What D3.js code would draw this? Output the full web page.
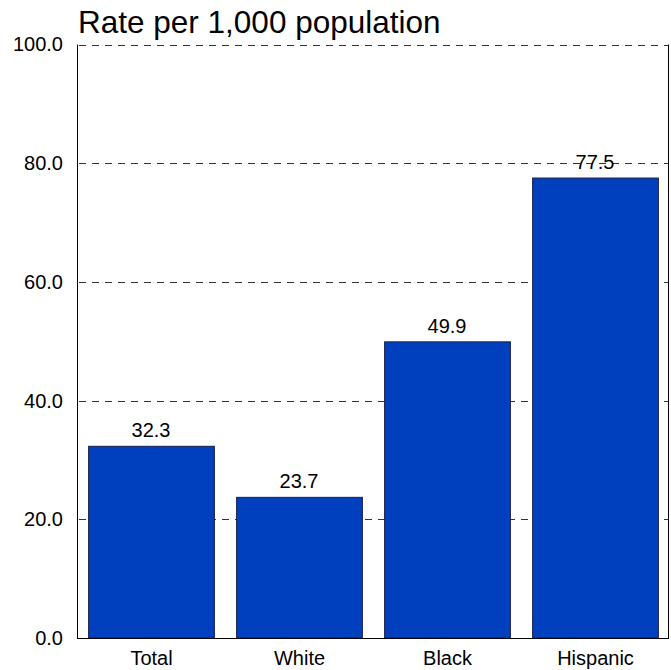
<!DOCTYPE html>
<html>
<head>
<meta charset="utf-8">
<script src="https://cdn.jsdelivr.net/npm/d3@7"></script>
<style>
  body { margin: 0; background: #fff; }
  svg { display: block; font-family: "Liberation Sans", Arial, sans-serif; }
</style>
</head>
<body>
<svg id="chart" width="671" height="670"></svg>
<script>
const categories = ["Total", "White", "Black", "Hispanic"];
const values = [32.3, 23.7, 49.9, 77.5];
const valueLabels = ["32.3", "23.7", "49.9", "77.5"];
const yTicks = [0, 20, 40, 60, 80, 100];
const yTickLabels = ["0.0", "20.0", "40.0", "60.0", "80.0", "100.0"];
const title = "Rate per 1,000 population";

const svg = d3.select("#chart");
const margin = { left: 77, right: 2, top: 44.5, bottom: 32 };
const W = 671, H = 670;
const x0 = margin.left, x1 = W - margin.right;
const y0 = H - margin.bottom, y1 = margin.top;

const x = d3.scaleBand().domain(categories).range([x0, x1])
  .paddingInner(0.15).paddingOuter(0.075);
const y = d3.scaleLinear().domain([0, 100]).range([y0, y1]);

// gridlines
svg.append("g").selectAll("line").data(yTicks.filter(d => d > 0)).join("line")
  .attr("x1", x0).attr("x2", x1)
  .attr("y1", d => Math.round(y(d)) + 0.5).attr("y2", d => Math.round(y(d)) + 0.5)
  .attr("stroke", "#333").attr("stroke-width", 1)
  .attr("stroke-dasharray", "7,6").attr("stroke-dashoffset", -2);

// bars
svg.append("g").selectAll("rect").data(values).join("rect")
  .attr("x", (d, i) => x(categories[i]) + 0.5)
  .attr("width", x.bandwidth())
  .attr("y", d => y(d))
  .attr("height", d => y0 - y(d))
  .attr("fill", "#0040BF")
  .attr("stroke", "#1a1f4a").attr("stroke-width", 1);

// value labels
svg.append("g").selectAll("text").data(values).join("text")
  .attr("x", (d, i) => x(categories[i]) + x.bandwidth() / 2)
  .attr("y", d => y(d) - 9)
  .attr("text-anchor", "middle")
  .attr("font-size", 20)
  .attr("fill", "#000")
  .text((d, i) => valueLabels[i]);

// axes frame: left, bottom, right solid
svg.append("line").attr("x1", x0 + 0.5).attr("x2", x0 + 0.5).attr("y1", y1).attr("y2", y0 + 0.5)
  .attr("stroke", "#000");
svg.append("line").attr("x1", x0).attr("x2", x1).attr("y1", y0 + 0.5).attr("y2", y0 + 0.5)
  .attr("stroke", "#000");
svg.append("line").attr("x1", x1 - 0.5).attr("x2", x1 - 0.5).attr("y1", y1).attr("y2", y0 + 0.5)
  .attr("stroke", "#000");

// y axis labels
const yAxis = d3.axisLeft(y).tickValues(yTicks).tickSize(0).tickPadding(14)
  .tickFormat((d, i) => yTickLabels[i]);
const gy = svg.append("g").attr("transform", `translate(${x0},0)`).call(yAxis);
gy.select(".domain").remove();
gy.selectAll("text").attr("font-size", 20).attr("fill", "#000")
  .attr("font-family", "Liberation Sans, Arial, sans-serif");

// x axis labels
const xAxis = d3.axisBottom(x).tickSize(0).tickPadding(13);
const gx = svg.append("g").attr("transform", `translate(0.5,${y0})`).call(xAxis);
gx.select(".domain").remove();
gx.selectAll("text").attr("font-size", 20).attr("fill", "#000")
  .attr("font-family", "Liberation Sans, Arial, sans-serif");

// title
svg.append("text").attr("x", x0 + 1).attr("y", 32.5)
  .attr("font-size", 31.5).attr("fill", "#000").text(title);
</script>
</body>
</html>
